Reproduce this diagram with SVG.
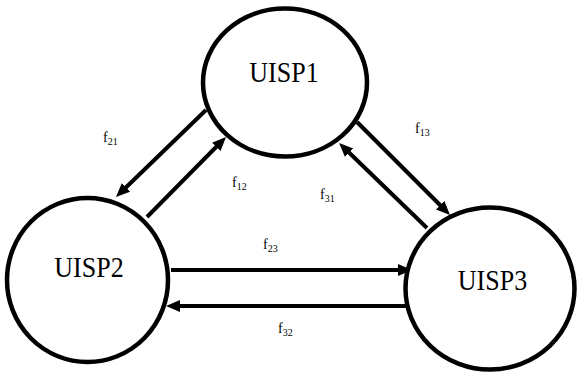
<svg xmlns="http://www.w3.org/2000/svg" width="577" height="373" viewBox="0 0 577 373">
<style>
.node{fill:#fff;stroke:#000;stroke-width:4.5}
.nt{font-family:'Liberation Serif','Times New Roman',Times,serif;font-size:26px;fill:#000;text-anchor:middle}
.conn{stroke:#000;stroke-width:4;fill:none;marker-end:url(#ah)}
.lbl{font-family:'Liberation Serif','Times New Roman',Times,serif;font-size:14px;fill:#000}
.sub{font-size:10px}
</style>
<defs>
<marker id="ah" markerUnits="userSpaceOnUse" markerWidth="15" markerHeight="13" refX="2" refY="6" orient="auto">
<path d="M0,0 L14,6 L0,12 Z" fill="#000"/>
</marker>
</defs>
<g id="connectors">
<line class="conn" x1="206" y1="110" x2="124.6" y2="188.7"/>
<line class="conn" x1="147" y1="217" x2="217.6" y2="145.5"/>
<line class="conn" x1="357" y1="122" x2="441.5" y2="206.5"/>
<line class="conn" x1="427" y1="228" x2="347.7" y2="151.3"/>
<line class="conn" x1="171" y1="270" x2="400" y2="270"/>
<line class="conn" x1="407" y1="306" x2="178" y2="306"/>
</g>
<g id="UISP1">
<ellipse class="node" cx="285" cy="82.5" rx="82" ry="74"/>
<text class="nt" transform="translate(284,82) scale(1,1.1)">UISP1</text>
</g>
<g id="UISP2">
<ellipse class="node" cx="87.5" cy="280" rx="80.5" ry="82"/>
<text class="nt" transform="translate(89,277) scale(1,1.1)">UISP2</text>
</g>
<g id="UISP3">
<ellipse class="node" cx="490" cy="288.5" rx="84.5" ry="81"/>
<text class="nt" transform="translate(492.5,290) scale(1,1.1)">UISP3</text>
</g>
<g id="labels">
<text class="lbl" x="103" y="142">f<tspan class="sub" dy="3">21</tspan></text>
<text class="lbl" x="232" y="187">f<tspan class="sub" dy="3">12</tspan></text>
<text class="lbl" x="415" y="133">f<tspan class="sub" dy="3">13</tspan></text>
<text class="lbl" x="320" y="199">f<tspan class="sub" dy="3">31</tspan></text>
<text class="lbl" x="263" y="249">f<tspan class="sub" dy="3">23</tspan></text>
<text class="lbl" x="278" y="333">f<tspan class="sub" dy="3">32</tspan></text>
</g>
</svg>
